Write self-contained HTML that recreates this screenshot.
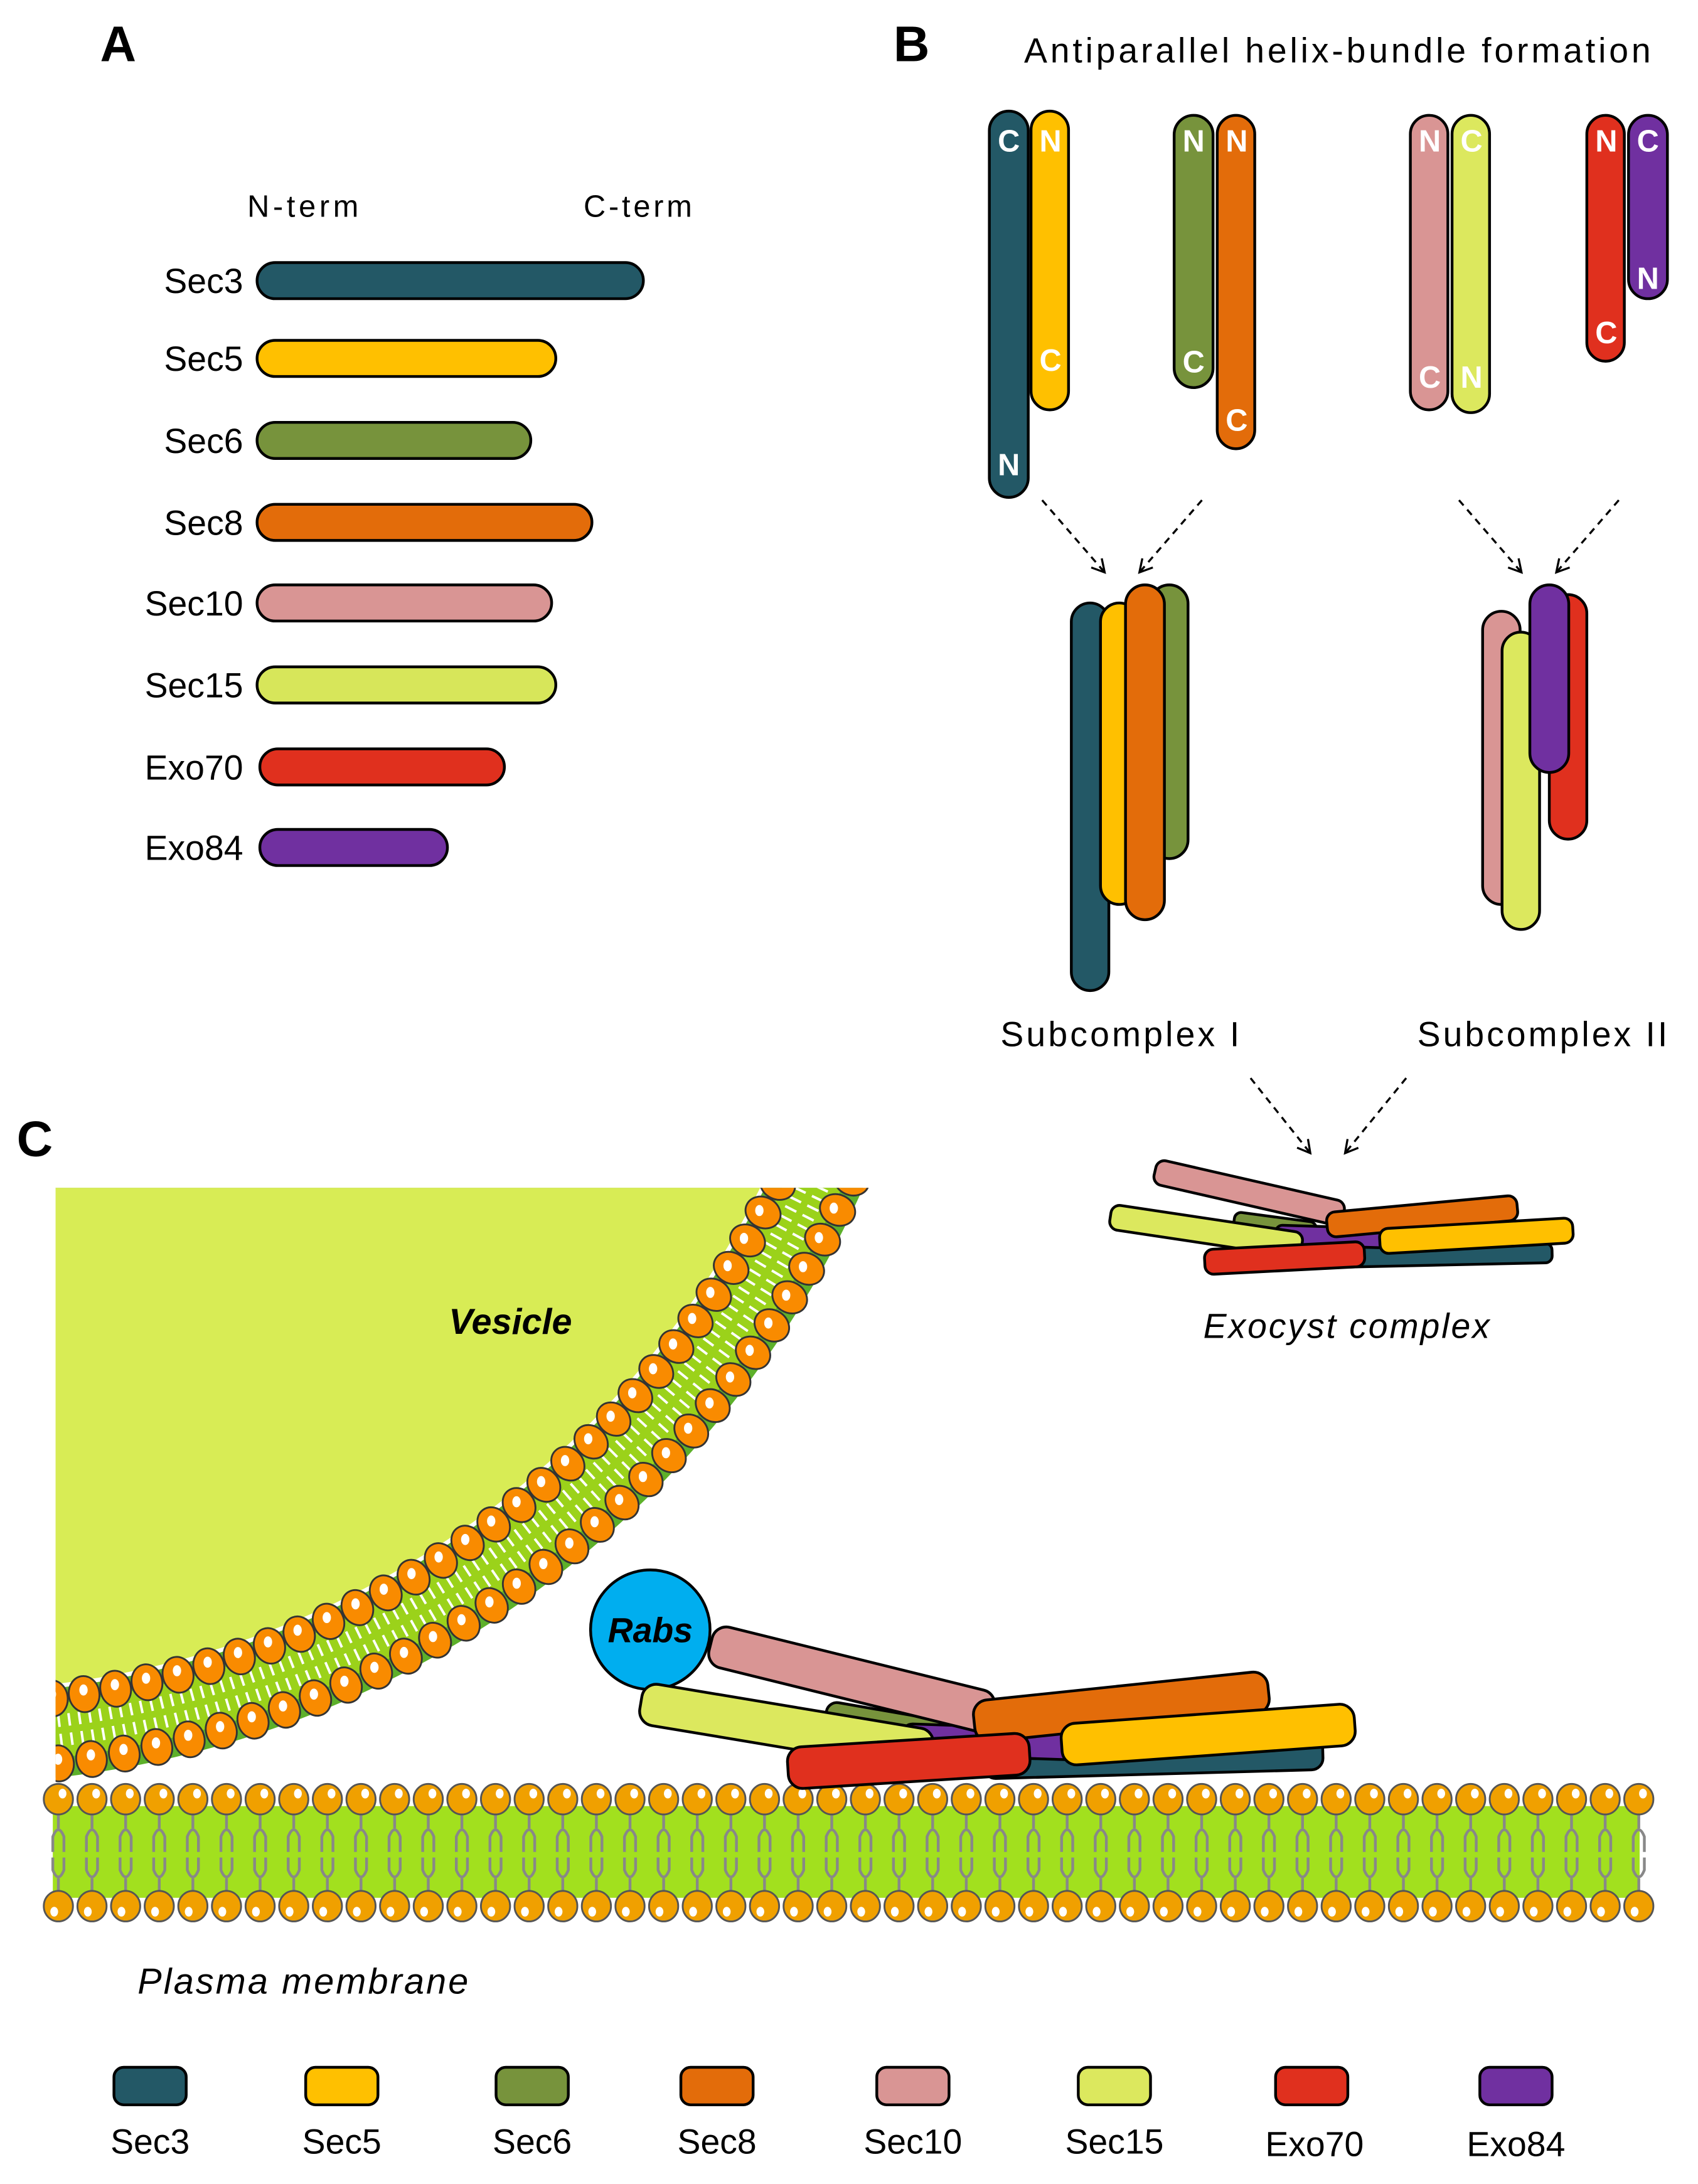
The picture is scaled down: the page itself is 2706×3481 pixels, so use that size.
<!DOCTYPE html>
<html><head><meta charset="utf-8"><style>
html,body{margin:0;padding:0;background:#fff}
svg{display:block}
text{font-family:"Liberation Sans",sans-serif}
</style></head><body>
<svg id="s" xmlns="http://www.w3.org/2000/svg" width="2706" height="3481" viewBox="0 0 1222 1572">
<defs>
<clipPath id="vc"><rect x="40" y="855" width="640" height="440"/></clipPath>
<marker id="ar" markerWidth="12" markerHeight="12" refX="10" refY="6" orient="auto" markerUnits="userSpaceOnUse"><path d="M1,1 L10,6 L1,11" fill="none" stroke="#000" stroke-width="1.5"/></marker>
</defs>
<rect width="1222" height="1572" fill="#fff"/>
<g font-weight="bold" font-size="36"><text x="72" y="44">A</text><text x="643" y="44">B</text><text x="12" y="832">C</text></g>
<text x="737" y="45" font-size="25" textLength="451" lengthAdjust="spacing">Antiparallel helix-bundle formation</text>
<text x="178" y="156" font-size="22" textLength="80">N-term</text><text x="420" y="156" font-size="22" textLength="78">C-term</text>
<g font-size="25" text-anchor="end">
<text x="175" y="211">Sec3</text><text x="175" y="267">Sec5</text><text x="175" y="326">Sec6</text><text x="175" y="385">Sec8</text>
<text x="175" y="443">Sec10</text><text x="175" y="502">Sec15</text><text x="175" y="561">Exo70</text><text x="175" y="619">Exo84</text></g>
<g stroke="#000" stroke-width="2">
<rect x="185" y="189" width="278" height="26" rx="13" fill="#235866"/>
<rect x="185" y="245" width="215" height="26" rx="13" fill="#FFC000"/>
<rect x="185" y="304" width="197" height="26" rx="13" fill="#77933C"/>
<rect x="185" y="363" width="241" height="26" rx="13" fill="#E36C0A"/>
<rect x="185" y="421" width="212" height="26" rx="13" fill="#D99594"/>
<rect x="185" y="480" width="215" height="26" rx="13" fill="#D7E65A"/>
<rect x="187" y="539" width="176" height="26" rx="13" fill="#E0301E"/>
<rect x="187" y="597" width="135" height="26" rx="13" fill="#7030A0"/>
</g>
<g stroke="#000" stroke-width="2">
<rect x="712" y="80" width="28" height="278" rx="14" fill="#235866"/>
<rect x="742" y="80" width="27" height="215" rx="13.5" fill="#FFC000"/>
<rect x="845" y="83" width="28" height="196" rx="14" fill="#77933C"/>
<rect x="876" y="83" width="27" height="240" rx="13.5" fill="#E36C0A"/>
<rect x="1015" y="83" width="27" height="212" rx="13.5" fill="#D99594"/>
<rect x="1045" y="83" width="27" height="214" rx="13.5" fill="#DCE85E"/>
<rect x="1142" y="83" width="27" height="177" rx="13.5" fill="#E0301E"/>
<rect x="1172" y="83" width="28" height="132" rx="14" fill="#7030A0"/>
</g>
<g fill="#fff" font-size="22" font-weight="bold" text-anchor="middle">
<text x="726" y="109">C</text><text x="756" y="109">N</text><text x="756" y="267">C</text><text x="726" y="342">N</text>
<text x="859" y="109">N</text><text x="890" y="109">N</text><text x="859" y="268">C</text><text x="890" y="310">C</text>
<text x="1029" y="109">N</text><text x="1059" y="109">C</text><text x="1029" y="279">C</text><text x="1059" y="279">N</text>
<text x="1156" y="109">N</text><text x="1186" y="109">C</text><text x="1186" y="208">N</text><text x="1156" y="247">C</text>
</g>
<g stroke="#000" stroke-width="1.5" stroke-dasharray="5,4" marker-end="url(#ar)" fill="none">
<path d="M750,360 L795,412"/><path d="M865,360 L820,412"/>
<path d="M1050,360 L1095,412"/><path d="M1165,360 L1120,412"/>
<path d="M900,776 L943,830"/><path d="M1012,776 L968,830"/>
</g>
<g stroke="#000" stroke-width="2">
<rect x="828" y="421" width="27" height="197" rx="13.5" fill="#77933C"/>
<rect x="771" y="434" width="27" height="279" rx="13.5" fill="#235866"/>
<rect x="792" y="434" width="27" height="217" rx="13.5" fill="#FFC000"/>
<rect x="810" y="421" width="28" height="241" rx="14" fill="#E36C0A"/>
<rect x="1115" y="428" width="27" height="176" rx="13.5" fill="#E0301E"/>
<rect x="1067" y="440" width="27" height="211" rx="13.5" fill="#D99594"/>
<rect x="1081" y="455" width="27" height="214" rx="13.5" fill="#DCE85E"/>
<rect x="1101" y="421" width="28" height="135" rx="14" fill="#7030A0"/>
</g>
<text x="720" y="753" font-size="25" textLength="172">Subcomplex I</text>
<text x="1020" y="753" font-size="25" textLength="180">Subcomplex II</text>
<g id="small"></g>
<text x="866" y="963" font-size="25" font-style="italic" textLength="206">Exocyst complex</text>
<g clip-path="url(#vc)" id="ves">
<circle cx="-40" cy="560" r="724" fill="#5DB02A"/>
<circle cx="-40" cy="560" r="710" fill="#9BD21A"/>
<circle cx="-40" cy="560" r="671" fill="#5DB02A"/>
<circle cx="-40" cy="560" r="660" fill="#fff"/>
<circle cx="-40" cy="560" r="657" fill="#D8EC55"/>
</g>
<text x="323" y="960" font-size="26" font-weight="bold" font-style="italic">Vesicle</text>
<rect x="38" y="1300" width="1142" height="66" fill="#A2E01E"/>
<g id="pm"></g>
<circle cx="468" cy="1173" r="43" fill="#00AEEF" stroke="#000" stroke-width="2"/>
<text x="468" y="1182" font-size="25" font-weight="bold" font-style="italic" text-anchor="middle">Rabs</text>
<g id="big"></g>
<text x="99" y="1435" font-size="26" font-style="italic" textLength="238">Plasma membrane</text>
<g stroke="#000" stroke-width="2">
<rect x="82" y="1488" width="52" height="27" rx="7" fill="#235866"/>
<rect x="220" y="1488" width="52" height="27" rx="7" fill="#FFC000"/>
<rect x="357" y="1488" width="52" height="27" rx="7" fill="#77933C"/>
<rect x="490" y="1488" width="52" height="27" rx="7" fill="#E36C0A"/>
<rect x="631" y="1488" width="52" height="27" rx="7" fill="#D99594"/>
<rect x="776" y="1488" width="52" height="27" rx="7" fill="#DCE85E"/>
<rect x="918" y="1488" width="52" height="27" rx="7" fill="#E0301E"/>
<rect x="1065" y="1488" width="52" height="27" rx="7" fill="#7030A0"/>
</g>
<g font-size="25" text-anchor="middle">
<text x="108" y="1550">Sec3</text><text x="246" y="1550">Sec5</text><text x="383" y="1550">Sec6</text><text x="516" y="1550">Sec8</text>
<text x="657" y="1550">Sec10</text><text x="802" y="1550">Sec15</text><text x="946" y="1552">Exo70</text><text x="1091" y="1552">Exo84</text></g>
</svg>
<script>
var NS="http://www.w3.org/2000/svg";
function el(p,t,a){var e=document.createElementNS(NS,t);for(var k in a)e.setAttribute(k,a[k]);p.appendChild(e);return e;}
var C={s3:"#235866",s5:"#FFC000",s6:"#77933C",s8:"#E36C0A",s10:"#D99594",s15:"#DCE85E",e70:"#E0301E",e84:"#7030A0"};
function bar(g,x1,y1,x2,y2,th,col){var dx=x2-x1,dy=y2-y1,L=Math.sqrt(dx*dx+dy*dy),a=Math.atan2(dy,dx)*180/Math.PI;
el(g,"rect",{x:x1-th/2,y:y1-th/2,width:L+th,height:th,rx:th*0.35,fill:col,stroke:"#000","stroke-width":2,transform:"rotate("+a+" "+x1+" "+y1+")"});}
var big=document.getElementById("big");
bar(big,720,1268,940,1262,24,C.s3);
bar(big,605,1237,680,1250,22,C.s6);
bar(big,660,1252,780,1256,22,C.e84);
bar(big,476,1228,656,1258,30,C.s15);
bar(big,526,1187,700,1230,30,C.s10);
bar(big,716,1238,898,1219,30,C.s8);
bar(big,779,1255,960,1242,30,C.s5);
bar(big,582,1272,726,1263,30,C.e70);
var sm=document.getElementById("small");
bar(sm,970,905,1110,902,14,C.s3);
bar(sm,895,880,940,886,14,C.s6);
bar(sm,925,889,990,891,14,C.e84);
bar(sm,808,877,928,895,18,C.s15);
bar(sm,840,845,958,872,18,C.s10);
bar(sm,964,881,1083,870,18,C.s8);
bar(sm,1002,893,1123,886,18,C.s5);
bar(sm,876,908,973,903,18,C.e70);
var ves=document.getElementById("ves"),cx=-40,cy=560;
for(var t=0.35;t<1.62;t+=0.011){var c=Math.cos(t),s=Math.sin(t);
 [[679,688],[693,702]].forEach(function(r){el(ves,"line",{x1:cx+r[0]*c,y1:cy+r[0]*s,x2:cx+r[1]*c,y2:cy+r[1]*s,stroke:"#fff","stroke-width":1.8});});}
[[667,0.0345],[714,0.0335]].forEach(function(R){var r=R[0];for(var t=0.35;t<1.62;t+=R[1]){var c=Math.cos(t),s=Math.sin(t);var x=cx+r*c,y=cy+r*s;var a=t*180/Math.PI+90;
 el(ves,"ellipse",{cx:x,cy:y,rx:11,ry:13,fill:"#F98B00",stroke:"#333","stroke-width":1.3,transform:"rotate("+a+" "+x+" "+y+")"});
 el(ves,"ellipse",{cx:x-3*c,cy:y-3*s,rx:3,ry:4,fill:"#fff"});}});
var pm=document.getElementById("pm");
for(var i=0;i<48;i++){var x=42+i*24.2;
 el(pm,"path",{d:"M"+x+",1306 V1316 M"+(x-4)+",1333 V1322 Q"+x+",1312 "+(x+4)+",1322 V1333",fill:"none",stroke:"#888","stroke-width":2});
 el(pm,"path",{d:"M"+x+",1361 V1352 M"+(x-4)+",1337 V1346 Q"+x+",1356 "+(x+4)+",1346 V1337",fill:"none",stroke:"#888","stroke-width":2});
 el(pm,"ellipse",{cx:x,cy:1295,rx:10.5,ry:11,fill:"#F0A000",stroke:"#555","stroke-width":1.3});
 el(pm,"ellipse",{cx:x+3,cy:1291,rx:2.8,ry:3.5,fill:"#fff"});
 el(pm,"ellipse",{cx:x,cy:1372,rx:10.5,ry:11,fill:"#F0A000",stroke:"#555","stroke-width":1.3});
 el(pm,"ellipse",{cx:x-3,cy:1376,rx:2.8,ry:3.5,fill:"#fff"});}
</script>
</body></html>
